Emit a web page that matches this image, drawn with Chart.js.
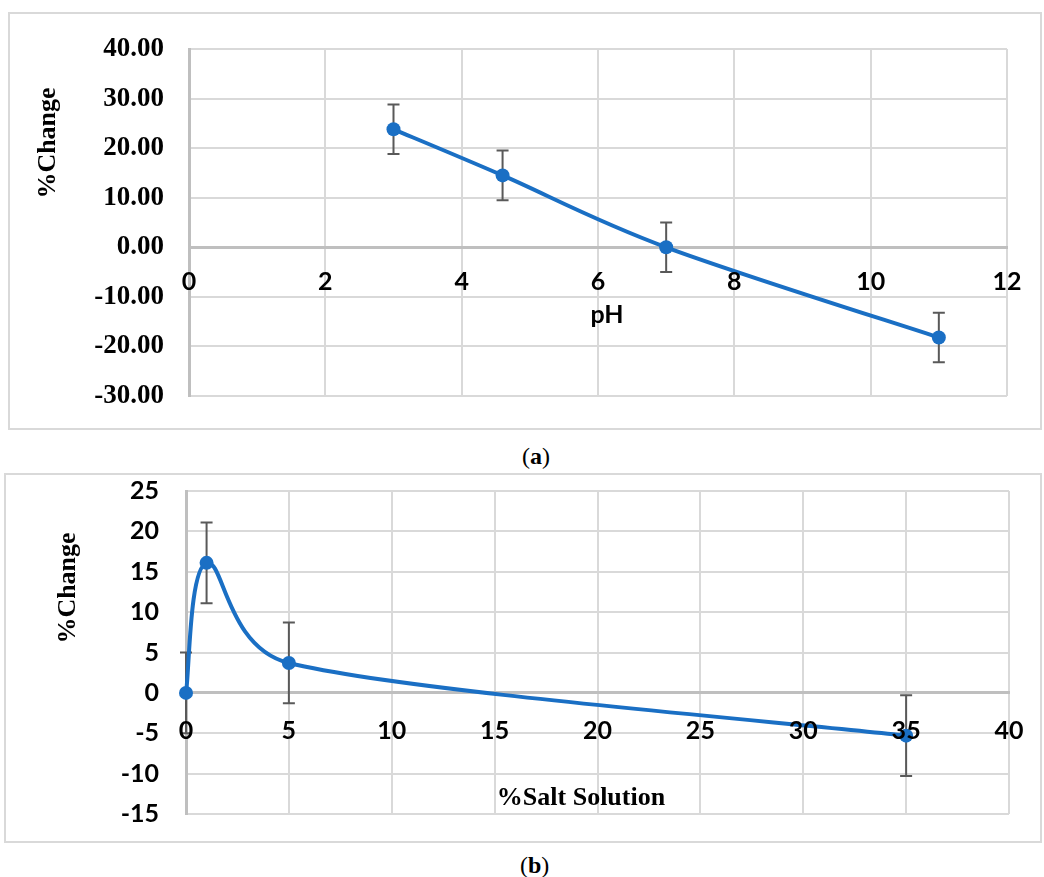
<!DOCTYPE html>
<html>
<head>
<meta charset="utf-8">
<script src="https://cdn.jsdelivr.net/npm/chart.js@4"></script>
<style>
  body { margin: 0; background: #fff; width: 1044px; height: 877px; position: relative; overflow: hidden; }
  .frame { position: absolute; border: 2px solid #d9d9d9; box-sizing: border-box; }
  .frame canvas { display: block; }
  .cap { position: absolute; font-family: "Liberation Serif", serif; font-size: 24px; line-height: 24px; color: #000; }
  .cap b { font-weight: bold; }
</style>
</head>
<body>
<div class="frame" id="frameA" style="left:8px; top:12px; width:1034px; height:418px;"><canvas id="chartA"></canvas></div>
<div class="cap" style="left:522px; top:444px;">(<b>a</b>)</div>
<div class="frame" id="frameB" style="left:4px; top:473px; width:1038px; height:370px;"><canvas id="chartB"></canvas></div>
<div class="cap" style="left:520px; top:853px;">(<b>b</b>)</div>

<script>
// Chart (a): pH
const phValues = [3, 4.6, 7, 11];
const phChange = [23.8, 14.5, 0.0, -18.2];
const phError = [5, 5, 5, 5];
const phTicksY = [-30, -20, -10, 0, 10, 20, 30, 40];

// Chart (b): salt solution
const saltValues = [0, 1, 5, 35];
const saltChange = [0.0, 16.1, 3.7, -5.3];
const saltError = [5, 5, 5, 5];
const saltTicksY = [-15, -10, -5, 0, 5, 10, 15, 20, 25];

const BLUE = '#1a6fc4';
const GRID = '#d9d9d9';
const AXIS = '#bfbfbf';
const TICK_SANS = 'Lato';
const SERIF = '"Liberation Serif", "Times New Roman", serif';

/**
 * Excel-like smoothing: control arms of 1/6 of the neighbour chord,
 * limited to half of the adjacent segment
 */
const excelSmoothPlugin = {
    id: 'excelSmooth',
    beforeDatasetsDraw(chart) {
        chart.data.datasets.forEach((ds, di) => {
            const meta = chart.getDatasetMeta(di);
            const pts = meta.data;
            const n = pts.length;
            pts.forEach((p, i) => {
                const prev = pts[Math.max(i - 1, 0)];
                const next = pts[Math.min(i + 1, n - 1)];
                const tx = next.x - prev.x;
                const ty = next.y - prev.y;
                const tl = Math.hypot(tx, ty) || 1;
                const ux = tx / tl, uy = ty / tl;
                const dPrev = Math.hypot(p.x - prev.x, p.y - prev.y);
                const dNext = Math.hypot(next.x - p.x, next.y - p.y);
                const armIn = Math.min(tl / 6, dPrev / 2);
                const armOut = Math.min(tl / 6, dNext / 2);
                p.cp1x = p.x - ux * armIn;
                p.cp1y = p.y - uy * armIn;
                p.cp2x = p.x + ux * armOut;
                p.cp2y = p.y + uy * armOut;
            });
            if (meta.dataset) meta.dataset._pointsUpdated = true;
        });
    }
};

/**
 * Draw vertical error bars behind the points
 */
const errorBarPlugin = {
    id: 'errorBars',
    beforeDatasetsDraw(chart, args, opts) {
        const ctx = chart.ctx;
        const xs = chart.scales.x;
        const ys = chart.scales.y;
        const data = chart.data.datasets[0].data;
        ctx.save();
        ctx.strokeStyle = '#595959';
        ctx.lineWidth = 2;
        data.forEach((p, i) => {
            const err = opts.errors[i];
            const x = xs.getPixelForValue(p.x);
            const top = ys.getPixelForValue(p.y + err);
            const bottom = ys.getPixelForValue(p.y - err);
            ctx.beginPath();
            ctx.moveTo(x, top);
            ctx.lineTo(x, bottom);
            ctx.moveTo(x - 6, top);
            ctx.lineTo(x + 6, top);
            ctx.moveTo(x - 6, bottom);
            ctx.lineTo(x + 6, bottom);
            ctx.stroke();
        });
        ctx.restore();
    }
};

/**
 * Axis titles placed like the Excel original
 */
const axisTitlePlugin = {
    id: 'axisTitles',
    afterDraw(chart, args, opts) {
        const ctx = chart.ctx;
        ctx.save();
        ctx.fillStyle = '#000';
        ctx.textAlign = 'center';
        ctx.textBaseline = 'middle';
        // y title, rotated
        ctx.save();
        ctx.translate(opts.y.x, opts.y.y);
        ctx.rotate(-Math.PI / 2);
        ctx.font = opts.y.font;
        ctx.fillText(opts.y.text, 0, 0);
        ctx.restore();
        // x title
        ctx.font = opts.x.font;
        ctx.fillText(opts.x.text, opts.x.x, opts.x.y);
        ctx.restore();
    }
};

function makeChart(canvasId, xs, ys, errors, yTicks, cfg) {
    const points = xs.map((x, i) => ({ x: x, y: ys[i] }));
    return new Chart(document.getElementById(canvasId), {
        type: 'line',
        data: {
            datasets: [{
                data: points,
                borderColor: BLUE,
                backgroundColor: BLUE,
                borderWidth: 4,
                pointRadius: 7,
                pointHoverRadius: 7,
                pointBackgroundColor: BLUE,
                pointBorderWidth: 0,
                tension: 0.4,
                clip: false,
                fill: false
            }]
        },
        options: {
            responsive: true,
            maintainAspectRatio: false,
            animation: false,
            events: [],
            layout: { padding: cfg.padding },
            plugins: {
                legend: { display: false },
                tooltip: { enabled: false },
                errorBars: { errors: errors },
                axisTitles: cfg.titles
            },
            scales: {
                x: {
                    type: 'linear',
                    position: { y: 0 },
                    min: cfg.xMin,
                    max: cfg.xMax,
                    afterFit(scale) { scale.paddingLeft = 0; scale.paddingRight = 0; },
                    grid: { color: GRID, lineWidth: 2, drawTicks: false },
                    border: { display: true, color: AXIS, width: 3 },
                    ticks: {
                        stepSize: cfg.xStep,
                        padding: cfg.xPad,
                        color: '#000',
                        z: 1,
                        font: { family: TICK_SANS, weight: 'bold', size: 25 }
                    }
                },
                y: {
                    type: 'linear',
                    min: yTicks[0],
                    max: yTicks[yTicks.length - 1],
                    afterFit(scale) {
                        scale.width = cfg.yWidth;
                        scale.paddingTop = 0;
                        scale.paddingBottom = 0;
                    },
                    afterBuildTicks(scale) { scale.ticks = yTicks.map(v => ({ value: v })); },
                    grid: { color: GRID, lineWidth: 2, drawTicks: false },
                    border: { display: true, color: AXIS, width: 3 },
                    ticks: {
                        padding: cfg.yPad,
                        color: '#000',
                        font: cfg.yFont,
                        callback: cfg.yFormat
                    }
                }
            }
        },
        plugins: [excelSmoothPlugin, errorBarPlugin, axisTitlePlugin]
    });
}

makeChart('chartA', phValues, phChange, phError, phTicksY, {
    padding: { top: 35, bottom: 32, left: 0, right: 33 },
    xMin: 0, xMax: 12, xStep: 2, xPad: 20,
    yWidth: 179, yPad: 25,
    yFont: { family: SERIF, weight: 'bold', size: 27 },
    yFormat: v => v.toFixed(2),
    titles: {
        y: { text: '%Change', x: 38, y: 129, font: 'bold 26px ' + SERIF },
        x: { text: 'pH', x: 597, y: 301, font: 'bold 25px ' + TICK_SANS }
    }
});

makeChart('chartB', saltValues, saltChange, saltError, saltTicksY, {
    padding: { top: 16, bottom: 27, left: 0, right: 31 },
    xMin: 0, xMax: 40, xStep: 5, xPad: 23,
    yWidth: 180, yPad: 27,
    yFont: { family: TICK_SANS, weight: 'bold', size: 25 },
    yFormat: v => String(v),
    titles: {
        y: { text: '%Change', x: 62, y: 113, font: 'bold 26px ' + SERIF },
        x: { text: '%Salt Solution', x: 575, y: 323, font: 'bold 26px ' + SERIF }
    }
});
</script>
</body>
</html>
